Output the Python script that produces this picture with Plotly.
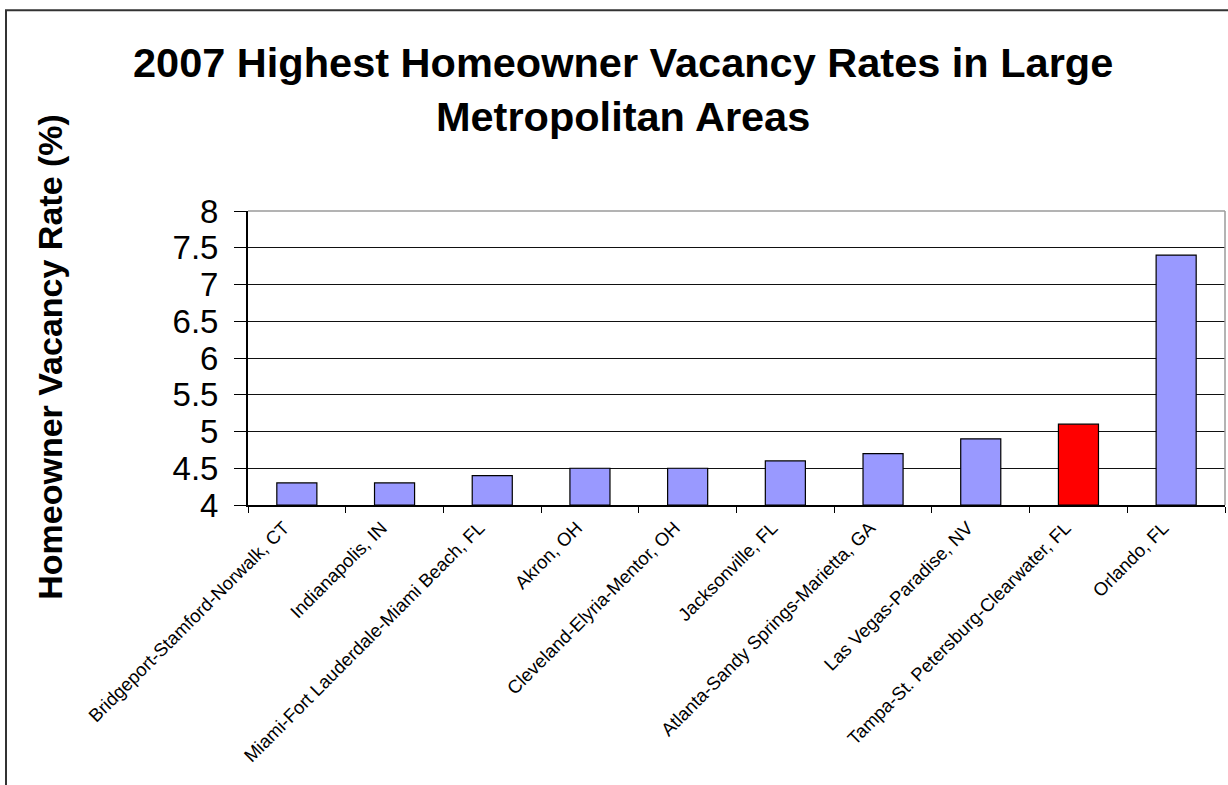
import plotly.graph_objects as go

# Metro areas with the highest 2007 homeowner vacancy rates
metros = [
    "Bridgeport-Stamford-Norwalk, CT",
    "Indianapolis, IN",
    "Miami-Fort Lauderdale-Miami Beach, FL",
    "Akron, OH",
    "Cleveland-Elyria-Mentor, OH",
    "Jacksonville, FL",
    "Atlanta-Sandy Springs-Marietta, GA",
    "Las Vegas-Paradise, NV",
    "Tampa-St. Petersburg-Clearwater, FL",
    "Orlando, FL",
]
vacancy_rates = [4.3, 4.3, 4.4, 4.5, 4.5, 4.6, 4.7, 4.9, 5.1, 7.4]
highlight = "Tampa-St. Petersburg-Clearwater, FL"

y_ticks = [4, 4.5, 5, 5.5, 6, 6.5, 7, 7.5, 8]
y_tick_text = ["4", "4.5", "5", "5.5", "6", "6.5", "7", "7.5", "8"]

title_text = "2007 Highest Homeowner Vacancy Rates in Large<br>Metropolitan Areas"
y_title = "Homeowner Vacancy Rate (%)"

W, H = 1228, 785
# plot area in pixels
L, R, T, B = 248, 1225, 211, 505.5
pw, ph = R - L, B - T


def px_x(p):
    return (p - L) / pw


def px_y(p):
    return (B - p) / ph


bar_colors = ["#FF0000" if m == highlight else "#9999FF" for m in metros]

fig = go.Figure(
    go.Bar(
        x=metros,
        y=[v - 4 for v in vacancy_rates],
        base=4,
        marker=dict(color=bar_colors, line=dict(color="#000000", width=1.2)),
        hoverinfo="x+y",
    )
)

fig.update_layout(
    width=W,
    height=H,
    margin=dict(l=L, r=W - R, t=T, b=H - B),
    paper_bgcolor="white",
    plot_bgcolor="white",
    bargap=0.59,
    showlegend=False,
    font=dict(family="Liberation Sans, Arial, sans-serif", color="#000000"),
)

fig.update_xaxes(
    type="category",
    tickangle=-45,
    tickfont=dict(size=18.5),
    tickson="boundaries",
    ticks="outside",
    ticklen=6,
    tickcolor="#000000",
    ticklabelshift=-13,
    ticklabelstandoff=3,
    showline=True,
    linecolor="#000000",
    linewidth=1.5,
    showgrid=False,
)

# a trailing no-break space keeps the value labels clear of the tick marks
fig.update_yaxes(
    range=[4, 8],
    tickvals=y_ticks,
    ticktext=[t + "\u00a0" for t in y_tick_text],
    tickfont=dict(size=33),
    ticks="outside",
    ticklen=12,
    tickcolor="#000000",
    showline=True,
    linecolor="#000000",
    linewidth=1.5,
    showgrid=True,
    gridcolor="#111111",
    gridwidth=1,
    zeroline=False,
)

fig.update_layout(
    shapes=[
        # light frame on top and right of the plot area
        dict(type="line", xref="paper", yref="paper", x0=0, x1=1, y0=1, y1=1,
             line=dict(color="#9a9a9a", width=1.5), layer="above"),
        dict(type="line", xref="paper", yref="paper", x0=1, x1=1, y0=0, y1=1,
             line=dict(color="#9a9a9a", width=1.5), layer="above"),
        # outer chart border (left and top edges)
        dict(type="path", xref="paper", yref="paper",
             path=f"M {px_x(6)},{px_y(H + 20)} L {px_x(6)},{px_y(10)} L {px_x(W + 20)},{px_y(10)}",
             line=dict(color="#333333", width=2), layer="above"),
    ],
    annotations=[
        dict(text=f"<b>{title_text}</b>", xref="paper", yref="paper",
             x=px_x(623), y=px_y(37), xanchor="center", yanchor="top",
             showarrow=False, font=dict(size=41.5, color="#000000")),
        dict(text=f"<b>{y_title}</b>", xref="paper", yref="paper",
             x=px_x(50), y=px_y(357), xanchor="center", yanchor="middle",
             textangle=-90, showarrow=False, font=dict(size=34, color="#000000")),
    ],
)

fig.write_html("out.html")
